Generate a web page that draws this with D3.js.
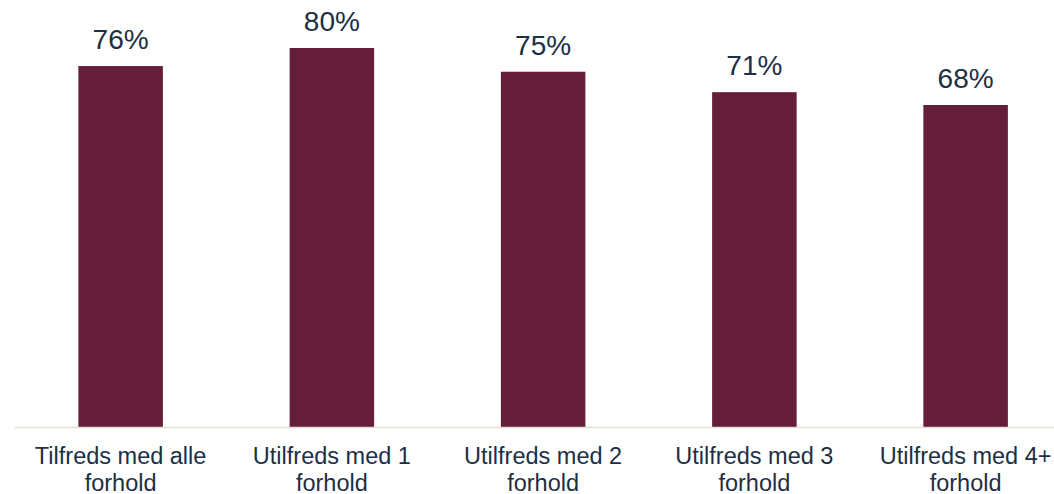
<!DOCTYPE html>
<html>
<head>
<meta charset="utf-8">
<script src="https://cdn.jsdelivr.net/npm/d3@7"></script>
<style>
  body { margin: 0; background: #fff; }
  svg { display: block; font-family: "Liberation Sans", Arial, sans-serif; }
</style>
</head>
<body>
<div id="chart"></div>
<script>
// Satisfaction categories and share (fraction)
const categories = [
  "Tilfreds med alle forhold",
  "Utilfreds med 1 forhold",
  "Utilfreds med 2 forhold",
  "Utilfreds med 3 forhold",
  "Utilfreds med 4+ forhold"
];
const labelLines = [
  ["Tilfreds med alle", "forhold"],
  ["Utilfreds med 1", "forhold"],
  ["Utilfreds med 2", "forhold"],
  ["Utilfreds med 3", "forhold"],
  ["Utilfreds med 4+", "forhold"]
];
const values = [0.762, 0.80, 0.75, 0.707, 0.68];

const w = 1054;
const h = 494;
const baseY = 428;
const barColor = "#641E3A";
const textColor = "#1C2F44";

const svg = d3
  .select("#chart")
  .append("svg")
  .attr("width", w)
  .attr("height", h);

// band step ~211px, bar ~84px
const xScale = d3
  .scaleBand()
  .domain(categories)
  .range([15, 1071.25])
  .paddingInner(0.6)
  .paddingOuter(0.3);

const yScale = d3.scaleLinear().domain([0, 1]).range([baseY, -47]);

// bars
svg
  .selectAll("rect.bar")
  .data(values)
  .enter()
  .append("rect")
  .attr("class", "bar")
  .attr("x", (d, i) => xScale(categories[i]))
  .attr("y", (d) => yScale(d))
  .attr("width", xScale.bandwidth())
  .attr("height", (d) => yScale(0) - yScale(d))
  .attr("fill", barColor);

// axis line
svg
  .append("line")
  .attr("x1", xScale.range()[0])
  .attr("x2", xScale.range()[1])
  .attr("y1", yScale(0) - 0.5)
  .attr("y2", yScale(0) - 0.5)
  .attr("stroke", "#E6DED3")
  .attr("stroke-width", 1.5);

// value labels
svg
  .selectAll("text.value")
  .data(values)
  .enter()
  .append("text")
  .attr("class", "value")
  .attr("x", (d, i) => xScale(categories[i]) + xScale.bandwidth() / 2)
  .attr("y", (d) => yScale(d) - 17)
  .attr("text-anchor", "middle")
  .attr("fill", textColor)
  .style("font-size", "28px")
  .text((d) => `${Math.round(d * 100)}%`);

// category labels, two lines each
const catText = svg
  .selectAll("text.cat")
  .data(categories)
  .enter()
  .append("text")
  .attr("class", "cat")
  .attr("text-anchor", "middle")
  .attr("fill", textColor)
  .style("font-size", "23.5px");

catText
  .selectAll("tspan")
  .data((d, i) => labelLines[i].map((t) => ({ t, c: d })))
  .enter()
  .append("tspan")
  .attr("x", (d) => xScale(d.c) + xScale.bandwidth() / 2)
  .attr("y", (d, j) => 464 + j * 26.5)
  .text((d) => d.t);
</script>
</body>
</html>
